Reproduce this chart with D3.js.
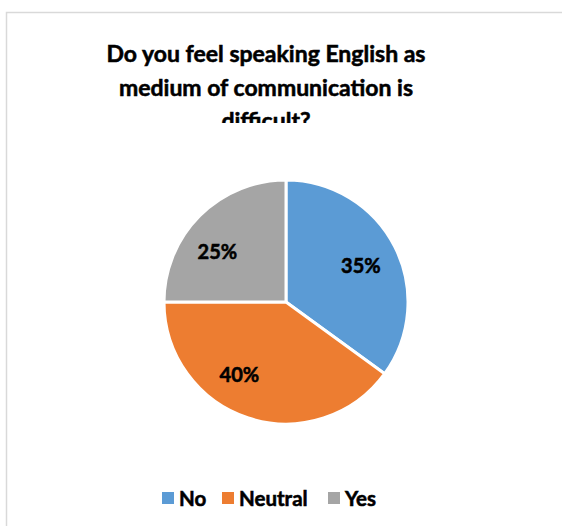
<!DOCTYPE html>
<html>
<head>
<meta charset="utf-8">
<script src="https://cdn.jsdelivr.net/npm/d3@7"></script>
<style>
  html, body { margin: 0; padding: 0; background: #fff; }
  svg { display: block; }
  text { font-family: Lato, "Open Sans", sans-serif; font-weight: bold; fill: #000;
         stroke: #000; stroke-width: 0.55px; paint-order: stroke; }
</style>
</head>
<body>
<svg id="chart" width="562" height="526"></svg>
<script>
// Survey responses
const categories = ["No", "Neutral", "Yes"];
const shares = [35, 40, 25];
const colors = ["#5B9BD5", "#ED7D31", "#A5A5A5"];
const titleLines = ["Do you feel speaking English as", "medium of communication is", "difficult?"];

const svg = d3.select("#chart");
const W = 562, H = 526;

// chart frame (runs past the right and bottom edges)
svg.append("rect")
  .attr("x", 6.5).attr("y", 12.5)
  .attr("width", W + 40).attr("height", H + 40)
  .attr("fill", "#fff")
  .attr("stroke", "#D9D9D9").attr("stroke-width", 1.5);

// title, clipped to its box
svg.append("clipPath").attr("id", "titleClip")
  .append("rect").attr("x", 0).attr("y", 0).attr("width", W).attr("height", 123);

const title = svg.append("g").attr("clip-path", "url(#titleClip)");
title.selectAll("text")
  .data(titleLines)
  .join("text")
  .attr("x", 266)
  .attr("y", (d, i) => 62 + i * 33.5)
  .attr("text-anchor", "middle")
  .attr("font-size", 23)
  .text(d => d);

// pie
const cx = 286, cy = 302, R = 122;
const pie = d3.pie().sort(null).value(d => d.v);
const data = categories.map((c, i) => ({ c, v: shares[i], color: colors[i] }));
const arcs = pie(data);
const arc = d3.arc().innerRadius(0).outerRadius(R);
const labelArc = d3.arc().innerRadius(R * 0.68).outerRadius(R * 0.68);
// small label shifts away from the exact centroid, per slice
const labelShift = [[1, 1], [-21, -6], [-10, 8]];

const g = svg.append("g").attr("transform", `translate(${cx},${cy})`);
g.selectAll("path")
  .data(arcs)
  .join("path")
  .attr("d", arc)
  .attr("fill", d => d.data.color)
  .attr("stroke", "#fff")
  .attr("stroke-width", 3)
  .attr("stroke-linejoin", "miter");

g.selectAll("text.lbl")
  .data(arcs)
  .join("text")
  .attr("class", "lbl")
  .attr("transform", (d, i) => {
    const [x, y] = labelArc.centroid(d);
    return `translate(${x + labelShift[i][0]},${y + labelShift[i][1]})`;
  })
  .attr("text-anchor", "middle")
  .attr("dy", "0.36em")
  .attr("font-size", 20)
  .text(d => d.data.v + "%");

// legend
const legendX = [162, 222, 328];
const legend = svg.append("g");
const items = legend.selectAll("g")
  .data(data)
  .join("g")
  .attr("transform", (d, i) => `translate(${legendX[i]},492)`);
items.append("rect")
  .attr("width", 12).attr("height", 12)
  .attr("fill", d => d.color);
items.append("text")
  .attr("x", 17).attr("y", 14)
  .attr("font-size", 20.5)
  .text(d => d.c);
</script>
</body>
</html>
